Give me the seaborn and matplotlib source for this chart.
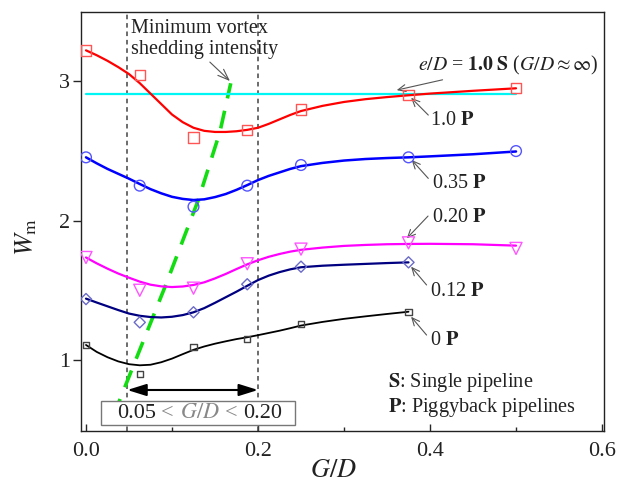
import matplotlib
matplotlib.use("Agg")
import matplotlib.pyplot as plt
import seaborn as sns
from matplotlib.offsetbox import TextArea, HPacker, AnnotationBbox, DrawingArea

# ---------------- data ----------------
gd_pts = [0.0, 0.0625, 0.125, 0.1875, 0.25, 0.375, 0.5]
gd_pts_short = [0.0, 0.0625, 0.125, 0.1875, 0.25, 0.375]
w_10P = [3.22, 3.045, 2.596, 2.649, 2.797, 2.90, 2.95]
w_035P = [2.453, 2.25, 2.099, 2.25, 2.398, 2.453, 2.498]
w_020P = [1.735, 1.50, 1.515, 1.69, 1.795, 1.84, 1.80]
w_012P = [1.437, 1.27, 1.342, 1.543, 1.669, 1.70]
w_0P = [1.108, 0.897, 1.095, 1.15, 1.256, 1.346]

# fitted curves
gd_fit = [0.0, 0.0125, 0.025, 0.0375, 0.05, 0.0625, 0.075, 0.0875, 0.1, 0.1125, 0.125,
          0.1375, 0.15, 0.1625, 0.175, 0.1875, 0.2, 0.2125, 0.225, 0.2375, 0.25,
          0.275, 0.3, 0.325, 0.35, 0.375, 0.4, 0.45, 0.5]
fit_10P = [3.22, 3.185, 3.145, 3.10, 3.05, 2.985, 2.91, 2.835, 2.76, 2.705, 2.665,
           2.643, 2.635, 2.635, 2.64, 2.65, 2.665, 2.693, 2.725, 2.757, 2.785,
           2.822, 2.85, 2.87, 2.885, 2.898, 2.91, 2.93, 2.948]
fit_035P = [2.453, 2.41, 2.37, 2.335, 2.30, 2.262, 2.225, 2.195, 2.17, 2.155, 2.147,
            2.152, 2.168, 2.19, 2.22, 2.254, 2.29, 2.32, 2.345, 2.37, 2.39,
            2.413, 2.43, 2.441, 2.448, 2.453, 2.46, 2.475, 2.495]
fit_020P = [1.735, 1.693, 1.655, 1.62, 1.59, 1.562, 1.54, 1.528, 1.523, 1.527, 1.538,
            1.557, 1.585, 1.617, 1.652, 1.686, 1.715, 1.74, 1.76, 1.777, 1.79,
            1.806, 1.818, 1.825, 1.83, 1.832, 1.833, 1.83, 1.82]
gd_fit_short = [0.0, 0.0125, 0.025, 0.0375, 0.05, 0.0625, 0.075, 0.0875, 0.1, 0.1125,
                0.125, 0.1375, 0.15, 0.1625, 0.175, 0.1875, 0.2, 0.2125, 0.225, 0.2375,
                0.25, 0.275, 0.3, 0.325, 0.35, 0.375]
fit_012P = [1.44, 1.412, 1.385, 1.358, 1.333, 1.317, 1.308, 1.305, 1.31, 1.322,
            1.342, 1.372, 1.41, 1.45, 1.49, 1.532, 1.573, 1.605, 1.63, 1.65,
            1.665, 1.676, 1.683, 1.689, 1.695, 1.70]
fit_0P = [1.108, 1.058, 1.02, 0.99, 0.97, 0.962, 0.966, 0.984, 1.01, 1.042,
          1.073, 1.097, 1.117, 1.134, 1.15, 1.163, 1.178, 1.194, 1.21, 1.228,
          1.247, 1.273, 1.295, 1.313, 1.33, 1.346]

single_x = [0.0, 0.5]
single_y = [2.905, 2.905]

green_x = [0.032, 0.0415, 0.0919, 0.1306, 0.1558, 0.1683]
green_y = [0.60, 0.749, 1.525, 2.147, 2.637, 2.984]

range_lo, range_hi = 0.048, 0.20

xticks = [0.0, 0.2, 0.4, 0.6]
xticklabels = ["0.0", "0.2", "0.4", "0.6"]
yticks = [1, 2, 3]
yticklabels = ["1", "2", "3"]

# ---------------- style ----------------
sns.set_style("ticks")
plt.rcParams["font.family"] = ["Liberation Serif", "DejaVu Serif"]
plt.rcParams["mathtext.fontset"] = "stix"

TXT = "#222222"
fig = plt.figure(figsize=(6.21, 4.82), dpi=100)
ax = fig.add_axes([81 / 621, 1 - 431 / 482, (604 - 81) / 621, (431 - 12) / 482])

# vertical range lines
for xv in (range_lo, range_hi):
    ax.axvline(xv, color="#444444", lw=1.1, ls=(0, (3, 2.5)), zorder=1)

# green dashed line through minima
sns.lineplot(x=green_x, y=green_y, ax=ax, color="#11DD11", lw=2.6, sort=False,
             estimator=None, zorder=2)
ax.lines[-1].set_dashes([5, 3.5])

# single pipeline reference line
sns.lineplot(x=single_x, y=single_y, ax=ax, color="#00F5F5", lw=1.6, zorder=3)

series = [
    (gd_fit, fit_10P, gd_pts, w_10P, "#FF0000", "#FF5555", "s", 55, 1.6),
    (gd_fit, fit_035P, gd_pts, w_035P, "#0000FF", "#5555FF", "o", 60, 1.8),
    (gd_fit, fit_020P, gd_pts, w_020P, "#FF00FF", "#FF55FF", "v", 75, 1.6),
    (gd_fit_short, fit_012P, gd_pts_short, w_012P, "#000080", "#6A6AC8", "D", 32, 1.6),
    (gd_fit_short, fit_0P, gd_pts_short, w_0P, "#000000", "#444444", "s", 20, 1.3),
]
for fx, fy, px, py, lc, mc, mk, ms, lw in series:
    sns.lineplot(x=fx, y=fy, ax=ax, color=lc, lw=lw, sort=False, estimator=None, zorder=4)
    sns.scatterplot(x=px, y=py, ax=ax, marker=mk, s=ms, facecolors="none",
                    edgecolor=mc, linewidth=1.0, zorder=5)

# axes limits & ticks
ax.set_xlim(-0.0058, 0.6023)
ax.set_ylim(0.491, 3.495)
ax.set_xticks(xticks)
ax.set_xticklabels(xticklabels)
ax.set_xticks([0.1, 0.3, 0.5], minor=True)
ax.set_yticks(yticks)
ax.set_yticklabels(yticklabels)
ax.tick_params(axis="x", which="major", direction="in", length=5, width=1,
               pad=8, labelsize=16, labelcolor=TXT)
ax.tick_params(axis="x", which="minor", direction="in", length=3, width=1)
ax.tick_params(axis="y", which="major", direction="out", length=6, width=1,
               pad=2, labelsize=16, labelcolor=TXT)
for sp in ax.spines.values():
    sp.set_visible(True)
    sp.set_linewidth(1.0)
    sp.set_color("#222222")

ax.set_xlabel("$G/D$", fontsize=19, color=TXT)
ax.set_ylabel(r"$W_{\mathrm{m}}$", fontsize=19, color=TXT)
ax.xaxis.set_label_coords(0.482, -0.07)
ax.yaxis.set_label_coords(-0.08, 0.463)

# annotations
arrow_small = dict(arrowstyle="->, head_length=0.55, head_width=0.25",
                   color="#555555", lw=0.8, shrinkA=0, shrinkB=0, mutation_scale=10)

ax.text(0.0523, 3.445, "Minimum vortex\nshedding intensity", ha="left", va="top",
        fontsize=14.5, color=TXT, linespacing=1.18)
ax.annotate("", xy=(0.1674, 3.0), xytext=(0.144, 3.136),
            arrowprops=dict(arrowstyle="->, head_length=0.8, head_width=0.3",
                            color="#555555", lw=0.8, shrinkA=0, shrinkB=0,
                            mutation_scale=10))

ax.annotate(r"$e/D$ = $\mathbf{1.0\ S}$ ($G/D\approx\infty$)", xy=(0.3613, 2.935),
            xytext=(0.386, 3.115), ha="left", va="center", fontsize=14.2, color=TXT,
            arrowprops=arrow_small)

labels = [
    (r"1.0 $\mathbf{P}$", (0.378, 2.88), (0.398, 2.756), (0.4, 2.72)),
    (r"0.35 $\mathbf{P}$", (0.3787, 2.434), (0.398, 2.302), (0.4027, 2.267)),
    (r"0.20 $\mathbf{P}$", (0.373, 1.872), (0.3977, 2.032), (0.4027, 2.023)),
    (r"0.12 $\mathbf{P}$", (0.378, 1.669), (0.396, 1.538), (0.4, 1.49)),
    (r"0 $\mathbf{P}$", (0.378, 1.31), (0.396, 1.179), (0.4, 1.138)),
]
for txt, head, tail, pos in labels:
    ax.annotate("", xy=head, xytext=tail, arrowprops=arrow_small)
    ax.text(pos[0], pos[1], txt, ha="left", va="center", fontsize=14.5, color=TXT)

ax.text(0.351, 0.842, r"$\mathbf{S}$: Single pipeline", ha="left", va="center",
        fontsize=14.6, color=TXT)
ax.text(0.351, 0.656, r"$\mathbf{P}$: Piggyback pipelines", ha="left", va="center",
        fontsize=14.6, color=TXT)

# double arrow for range
ax.annotate("", xy=(range_lo, 0.785), xytext=(range_hi, 0.785),
            arrowprops=dict(arrowstyle="<|-|>, head_length=1.15, head_width=0.36",
                            color="black", lw=1.5, shrinkA=0, shrinkB=0,
                            mutation_scale=10), zorder=6)

# range box
fs_box = 16
parts = [
    DrawingArea(6, 1),
    TextArea("0.05", textprops=dict(color=TXT, fontsize=fs_box)),
    TextArea("<", textprops=dict(color="#888888", fontsize=fs_box)),
    TextArea("$G/D$", textprops=dict(color="#888888", fontsize=fs_box)),
    TextArea("<", textprops=dict(color="#888888", fontsize=fs_box)),
    TextArea("0.20", textprops=dict(color=TXT, fontsize=fs_box)),
    DrawingArea(4, 1),
]
pack = HPacker(children=parts, align="baseline", pad=0, sep=4)
ab = AnnotationBbox(pack, (0.1303, 0.62), xycoords="data", frameon=True,
                    box_alignment=(0.5, 0.5), pad=0.15,
                    bboxprops=dict(edgecolor="#777777", facecolor="white", lw=1.0))
ab.set_zorder(7)
ax.add_artist(ab)

fig.savefig("out.png", dpi=100)
